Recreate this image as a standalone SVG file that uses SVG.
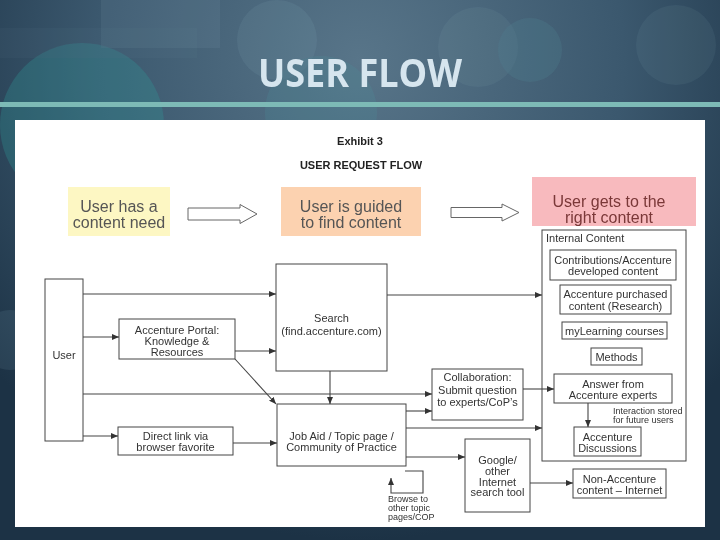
<svg xmlns="http://www.w3.org/2000/svg" width="720" height="540" viewBox="0 0 720 540">
<defs>
<radialGradient id="bg" cx="360" cy="60" r="480" gradientUnits="userSpaceOnUse">
<stop offset="0" stop-color="#587589"/>
<stop offset="0.55" stop-color="#3b586e"/>
<stop offset="1" stop-color="#1c3245"/>
</radialGradient>
<marker id="ah" markerUnits="userSpaceOnUse" markerWidth="8" markerHeight="6" refX="7" refY="3" orient="auto">
<path d="M0,0 L7,3 L0,6 z" fill="#333"/>
</marker>
<style>
.box{fill:#fff;stroke:#444;stroke-width:1}
.t{font-family:"Liberation Sans",Arial,sans-serif;font-size:11px;fill:#333;text-anchor:middle}
.ts{font-family:"Liberation Sans",Arial,sans-serif;font-size:9px;fill:#333}
.big{font-family:"Liberation Sans",Arial,sans-serif;font-size:16px;fill:#555;text-anchor:middle}
.hd{font-family:"Liberation Sans",Arial,sans-serif;font-size:11px;font-weight:bold;fill:#222;text-anchor:middle}
.blk{fill:#fff;stroke:#666;stroke-width:1}
#connectors path{fill:none;stroke:#444;stroke-width:1.1}
.deco{fill:#9fc7d3}
</style>
</defs>
<!-- slide background -->
<rect x="0" y="0" width="720" height="540" fill="url(#bg)"/>
<g opacity="0.3">
<circle cx="82" cy="125" r="82" fill="#2f9a9a"/>
<rect x="101" y="0" width="119" height="48" fill="#8fb0c0" opacity="0.35"/>
<rect x="0" y="28" width="197" height="30" fill="#7fa0b0" opacity="0.2"/>
<circle cx="277" cy="40" r="40" class="deco" opacity="0.3"/>
<circle cx="321" cy="112" r="56" fill="#4fa0a8" opacity="0.55"/>
<circle cx="478" cy="47" r="40" class="deco" opacity="0.25"/>
<circle cx="530" cy="50" r="32" fill="#5fa6ac" opacity="0.45"/>
<circle cx="676" cy="45" r="40" class="deco" opacity="0.25"/>
<circle cx="10" cy="340" r="30" class="deco" opacity="0.35"/>
</g>
<!-- title -->
<text x="360" y="87" text-anchor="middle" font-family="'Open Sans','Noto Sans',sans-serif" font-weight="bold" font-size="40" textLength="204" lengthAdjust="spacingAndGlyphs" fill="#d6e5ee">USER FLOW</text>
<rect x="0" y="102" width="720" height="5" fill="#7dbab6"/>
<!-- white panel -->
<rect x="15" y="120" width="690" height="407" fill="#fff"/>

<g id="header">
<text x="360" y="145" class="hd">Exhibit 3</text>
<text x="361" y="169" class="hd">USER REQUEST FLOW</text>
</g>

<g id="need">
<rect x="68" y="187" width="102" height="49" fill="#fdf7c3"/>
<text x="119" y="211.5" class="big">User has a</text>
<text x="119" y="227.5" class="big">content need</text>
</g>
<g id="arrow1">
<path d="M188,208 H240 V204.5 L257,214 L240,223.5 V220 H188 Z" class="blk"/>
</g>
<g id="guided">
<rect x="281" y="187" width="140" height="49" fill="#fcd2b0"/>
<text x="351" y="211.5" class="big">User is guided</text>
<text x="351" y="227.5" class="big">to find content</text>
</g>
<g id="arrow2">
<path d="M451,207.5 H502 V204 L519,212.5 L502,221 V217.5 H451 Z" class="blk"/>
</g>
<g id="gets">
<rect x="532" y="177" width="164" height="49" fill="#f8babe"/>
<text x="609" y="206.5" class="big" style="fill:#7a3838">User gets to the</text>
<text x="609" y="223" class="big" style="fill:#7a3838">right content</text>
</g>

<g id="internal">
<rect x="542" y="230" width="144" height="231" class="box"/>
<text x="546" y="242" class="t" style="text-anchor:start">Internal Content</text>
</g>
<g id="contributions">
<rect x="550" y="250" width="126" height="30" class="box"/>
<text x="613" y="264" class="t">Contributions/Accenture</text>
<text x="613" y="275" class="t">developed content</text>
</g>
<g id="purchased">
<rect x="560" y="285" width="111" height="29" class="box"/>
<text x="615.5" y="298" class="t">Accenture purchased</text>
<text x="615.5" y="310" class="t">content (Research)</text>
</g>
<g id="mylearning">
<rect x="562" y="322" width="105" height="17" class="box"/>
<text x="614.5" y="335" class="t">myLearning courses</text>
</g>
<g id="methods">
<rect x="591" y="348" width="51" height="17" class="box"/>
<text x="616.5" y="361" class="t">Methods</text>
</g>
<g id="answer">
<rect x="554" y="374" width="118" height="29" class="box"/>
<text x="613" y="388" class="t">Answer from</text>
<text x="613" y="399" class="t">Accenture experts</text>
</g>
<g id="interaction">
<text x="613" y="414" class="ts">Interaction stored</text>
<text x="613" y="423" class="ts">for future users</text>
</g>
<g id="discussions">
<rect x="574" y="427" width="67" height="29" class="box"/>
<text x="607.5" y="441" class="t">Accenture</text>
<text x="607.5" y="452" class="t">Discussions</text>
</g>
<g id="nonaccenture">
<rect x="573" y="469" width="93" height="29" class="box"/>
<text x="619.5" y="483" class="t">Non-Accenture</text>
<text x="619.5" y="494" class="t">content – Internet</text>
</g>

<g id="user">
<rect x="45" y="279" width="38" height="162" class="box"/>
<text x="64" y="359" class="t">User</text>
</g>
<g id="portal">
<rect x="119" y="319" width="116" height="40" class="box"/>
<text x="177" y="334" class="t">Accenture Portal:</text>
<text x="177" y="345" class="t">Knowledge &amp;</text>
<text x="177" y="355.5" class="t">Resources</text>
</g>
<g id="directlink">
<rect x="118" y="427" width="115" height="28" class="box"/>
<text x="175.5" y="440" class="t">Direct link via</text>
<text x="175.5" y="451" class="t">browser favorite</text>
</g>
<g id="search">
<rect x="276" y="264" width="111" height="107" class="box"/>
<text x="331.5" y="322" class="t">Search</text>
<text x="331.5" y="335" class="t">(find.accenture.com)</text>
</g>
<g id="collaboration">
<rect x="432" y="369" width="91" height="51" class="box"/>
<text x="477.5" y="381" class="t">Collaboration:</text>
<text x="477.5" y="393.5" class="t">Submit question</text>
<text x="477.5" y="406" class="t">to experts/CoP’s</text>
</g>
<g id="jobaid">
<rect x="277" y="404" width="129" height="62" class="box"/>
<text x="341.5" y="440" class="t">Job Aid / Topic page /</text>
<text x="341.5" y="451" class="t">Community of Practice</text>
</g>
<g id="google">
<rect x="465" y="439" width="65" height="73" class="box"/>
<text x="497.5" y="464" class="t">Google/</text>
<text x="497.5" y="475" class="t">other</text>
<text x="497.5" y="485.5" class="t">Internet</text>
<text x="497.5" y="496" class="t">search tool</text>
</g>
<g id="browse">
<text x="388" y="502" class="ts">Browse to</text>
<text x="388" y="511" class="ts">other topic</text>
<text x="388" y="520" class="ts">pages/COP</text>
</g>

<g id="connectors">
<path d="M83,294 H276" marker-end="url(#ah)"/>
<path d="M83,337 H119" marker-end="url(#ah)"/>
<path d="M235,351 H276" marker-end="url(#ah)"/>
<path d="M235,359 L276,404" marker-end="url(#ah)"/>
<path d="M83,394 H432" marker-end="url(#ah)"/>
<path d="M330,371 V404" marker-end="url(#ah)"/>
<path d="M83,436 H118" marker-end="url(#ah)"/>
<path d="M233,443 H277" marker-end="url(#ah)"/>
<path d="M406,411 H432" marker-end="url(#ah)"/>
<path d="M406,428 H542" marker-end="url(#ah)"/>
<path d="M406,457 H465" marker-end="url(#ah)"/>
<path d="M530,483 H573" marker-end="url(#ah)"/>
<path d="M523,389 H554" marker-end="url(#ah)"/>
<path d="M387,295 H542" marker-end="url(#ah)"/>
<path d="M588,403 V427" marker-end="url(#ah)"/>
<path d="M405,471 H423 V493 H391 V478" marker-end="url(#ah)"/>
</g>
</svg>
